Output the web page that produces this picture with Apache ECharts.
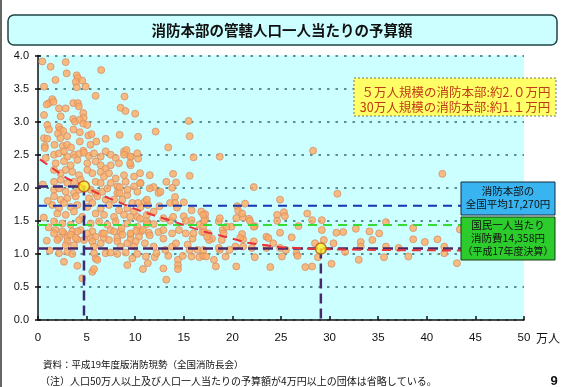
<!DOCTYPE html>
<html><head><meta charset="utf-8">
<script src="https://cdn.jsdelivr.net/npm/echarts@6/dist/echarts.min.js"></script>
<style>html,body{margin:0;padding:0;background:#fff}#c{width:566px;height:387px}</style>
</head><body><div id="c"></div>
<script>
// x: 管轄人口（万人）, y: 人口一人当たり予算額（万円）
const xTickLabels = ['0','5','10','15','20','25','30','35','40','45','50'];
const yTickLabels = ['0.0','0.5','1.0','1.5','2.0','2.5','3.0','3.5','4.0'];

const ptsUpper = [[0.44,3.91],[1.3,3.83],[2.85,3.90],[2.95,3.73],[1.8,3.63],[3.98,3.70],[4.1,3.66],[3.88,3.60],[4.56,3.62],[6.5,3.78],[4.9,3.53],[3.98,3.52],[0.62,3.53],[5.93,3.39],[8.9,3.38],[1.47,3.34],[1.13,3.28],[0.9,3.26],[1.6,3.30],[2.16,3.20],[2.85,3.20],[3.63,3.28],[4.1,3.28],[4.2,3.23],[4.66,3.13],[4.7,3.06],[8.5,3.21],[9.0,3.16],[10.0,3.12],[0.62,3.10],[2.33,3.08],[3.62,3.04],[3.8,3.00],[4.3,3.03],[4.66,2.97],[5.07,2.95],[0.96,2.95],[1.13,2.88],[2.16,2.92],[2.3,2.88],[2.6,2.86],[2.05,2.82],[0.62,2.75],[0.96,2.74],[2.3,2.75],[3.0,2.78],[3.65,2.88],[4.3,2.84],[5.18,2.79],[5.5,2.81],[6.96,2.74],[8.4,2.80],[10.3,2.77],[12.1,2.85],[0.7,2.63],[1.7,2.65],[2.55,2.63],[3.0,2.65],[3.4,2.61],[4.3,2.70],[5.4,2.65],[4.66,2.56],[8.85,2.55],[6.0,2.70],[15.5,3.01],[15.6,2.78],[13.4,2.61],[16.0,2.46],[18.7,2.47],[9.1,2.57],[9.5,2.47],[10.3,2.44],[28.3,2.56],[41.6,2.21]];

const ptsDense = [[1.65,2.50],[2.16,2.52],[2.67,2.55],[3.02,2.47],[3.70,2.50],[4.22,2.51],[4.73,2.53],[5.25,2.48],[5.76,2.52],[6.45,2.47],[6.96,2.55],[7.48,2.50],[7.99,2.45],[8.85,2.50],[9.53,2.47],[10.22,2.52],[1.82,2.37],[2.67,2.40],[3.36,2.34],[4.05,2.42],[5.08,2.37],[5.93,2.40],[6.45,2.34],[6.96,2.29],[7.48,2.34],[8.33,2.37],[9.53,2.34],
[1.65,2.27],[2.33,2.22],[2.85,2.27],[3.53,2.24],[4.22,2.19],[5.08,2.27],[5.59,2.22],[6.45,2.24],[6.79,2.17],[7.30,2.22],[7.99,2.14],[8.85,2.19],[9.88,2.17],[10.56,2.07],[1.65,2.09],[2.33,2.12],[3.02,2.07],[3.70,2.09],[4.39,2.12],[5.93,2.09],[6.45,2.07],[7.48,2.07],[8.16,2.02],[9.02,2.09],[9.88,2.02],
[1.65,1.97],[2.16,1.99],[2.85,1.94],[3.70,1.92],[4.22,1.97],[5.42,1.97],[5.93,1.92],[6.62,1.94],[7.13,1.99],[8.16,1.92],[9.19,1.89],[10.22,1.94],[1.65,1.87],[2.33,1.82],[3.02,1.84],[3.88,1.87],[5.25,1.84],[6.10,1.87],[6.96,1.82],[7.82,1.82],[8.68,1.82],[9.70,1.77],[10.56,1.71],
[1.47,1.74],[2.16,1.69],[2.67,1.77],[3.36,1.71],[4.05,1.74],[5.08,1.71],[5.59,1.77],[6.45,1.69],[7.30,1.74],[8.33,1.66],[9.19,1.69],[9.88,1.64],[1.99,1.61],[2.85,1.59],[3.70,1.64],[4.56,1.56],[5.93,1.61],[6.79,1.59],[7.82,1.56],[8.85,1.59],[10.22,1.56],
[1.65,1.49],[2.50,1.46],[3.36,1.44],[4.22,1.51],[5.42,1.46],[6.28,1.49],[7.13,1.44],[7.99,1.49],[9.19,1.46],[10.22,1.41],[1.82,1.36],[2.67,1.31],[3.53,1.34],[4.39,1.36],[5.59,1.34],[6.62,1.31],[7.48,1.36],[8.50,1.34],[9.53,1.29],[10.56,1.34],[2.16,1.24],[3.02,1.25],[4.05,1.22],[5.42,1.24],[6.79,1.24],[8.16,1.24],[9.53,1.22],
[1.65,1.31],[2.50,1.34],[3.36,1.29],[4.05,1.34],[5.08,1.31],[5.93,1.26],[6.79,1.31],[7.82,1.34],[8.68,1.29],[9.53,1.31],[10.39,1.26],[1.99,1.21],[3.02,1.19],[3.88,1.24],[4.73,1.21],[5.59,1.19],[6.45,1.16],[7.30,1.21],[8.16,1.19],[9.19,1.16],[10.05,1.19],[2.85,1.13],[3.70,1.13],[5.76,1.11],[8.50,1.11],[9.88,1.11],
[2.16,1.01],[3.02,1.03],[3.53,1.00],[5.76,1.01],[6.96,1.01],[7.48,1.02],[8.16,1.00],[9.02,1.02],[10.22,1.00],[2.67,0.88],[4.05,0.82],[5.93,0.93],[6.10,0.91],[9.19,0.83],[9.70,0.93],[5.59,0.73],[5.76,0.77],[4.56,0.63],
[0.8,2.45],[0.5,2.05],[1.0,1.80],[0.6,1.55],[1.1,1.40],[0.9,1.20],[1.2,1.05],[0.7,2.60],[9.47,2.37],[8.4,1.92],[9.5,1.56],[8.6,1.39],[10.1,1.35],[11.4,1.32]];

const ptsMid = [[13.9,2.21],[15.6,2.18],[14.2,2.08],[11.9,2.01],[13.8,2.0],[8.4,2.01],[9.2,1.97],[13.2,2.09],[11.5,1.99],[12.4,1.92],[14.1,1.86],[11.0,1.79],[11.3,1.74],[11.9,1.64],[12.5,1.72],[13.6,1.77],[14.1,1.77],[15.0,1.78],[14.3,1.70],[15.8,1.66],[16.8,1.64],[17.2,1.60],[17.2,1.53],[18.6,1.49],[18.7,1.54],[19.9,1.41],[22.2,2.01],[21.3,1.76],[20.5,1.72],[20.6,1.65],[21.1,1.55],[21.7,1.53],[22.3,1.42],[24.6,1.59],[24.9,1.82],[25.3,1.63],[11.2,1.59],[11.2,1.49],[11.9,1.45],[12.9,1.54],[13.6,1.50],[15.0,1.57],[15.8,1.51],[16.6,1.44],[10.8,1.36],[11.5,1.28],[12.4,1.33],[12.9,1.23],[13.8,1.31],[14.5,1.36],[15.2,1.31],[15.9,1.23],[16.9,1.33],[17.5,1.31],[17.9,1.23],[19.0,1.36],[21.0,1.30],[21.1,1.22],[23.5,1.26],[24.2,1.16],[25.5,1.06],[11.0,1.16],[11.9,1.11],[13.1,1.06],[13.8,1.11],[15.4,1.14],[16.4,1.06],[18.7,1.06],[20.3,1.11],[22.0,1.09],[11.1,0.96],[12.0,0.95],[13.4,0.97],[14.4,0.91],[14.9,0.97],[15.8,0.96],[16.6,0.95],[19.3,0.96],[10.8,0.77],[11.3,0.86],[12.9,0.78],[14.4,0.83],[14.4,0.77],[18.3,0.81],[20.4,0.81],[23.9,0.80],[13.2,0.61],[10.5,2.22],[11.5,2.19],[10.5,2.07],[12.6,1.94],[11.2,1.82],[10.3,1.77],[10.5,1.53],[11.2,1.45],[12.9,1.36],[13.9,1.56],[15.2,1.50],[16.0,1.31],[17.0,1.41],[17.6,1.21],[19.1,1.31],[14.2,1.16],[15.6,1.06],[17.0,0.97],[12.2,1.01],[18.1,0.91],
[21.0,1.61],[20.4,1.54],[21.8,1.50],[22.2,1.41],[25.4,1.57],[24.6,1.50],[17.0,1.59],[17.1,1.50],[19.4,1.41],[24.9,1.32],[23.7,1.24],[20.8,1.24],[22.2,1.19],[17.1,1.33],[17.4,1.26],[18.9,1.21],[24.9,1.09],[23.5,1.09],[21.1,1.11],[19.7,1.06],[18.6,1.09],[17.0,1.06],[17.3,0.96],[22.3,0.95],[25.1,0.96]];

const ptsRight = [[27.7,1.61],[28.2,1.51],[29.2,1.51],[26.8,1.42],[26.1,1.25],[29.2,1.36],[30.7,1.32],[31.4,1.33],[32.7,1.38],[34.1,1.34],[35.1,1.31],[35.8,1.48],[38.6,1.39],[33.2,1.18],[34.4,1.21],[35.8,1.11],[37.1,1.09],[38.6,1.22],[39.8,1.18],[41.1,1.22],[41.8,1.11],[41.8,1.01],[43.4,1.37],[43.1,0.86],[31.6,1.03],[33.0,0.91],[35.6,0.95],[38.1,0.96],[30.2,0.85],[28.2,0.81],[27.5,0.80],[26.6,1.01],[26.7,0.97],[30.8,1.91],[30.4,1.16],[28.5,1.16],[29.4,1.21],[28.8,0.95],[33.2,1.11]];

const avgHQ = 1.727;        // 消防本部の全国平均 17,270円
const avgNation = 1.4358;   // 国民一人当たり消防費 14,358円
const refLineEnd = 43.6;
const pop5Point = [4.73, 2.02];
const pop30Point = [29.1, 1.08];
const trendLine = [[0.2,2.43],[3,2.14],[4.73,2.02],[6.5,1.89],[10.5,1.65],[13.9,1.49],[17,1.34],[19.5,1.25],[21.5,1.17],[25,1.10],[29.1,1.07],[35,1.06],[43.6,1.05]];

const FONT = "'Noto Sans CJK JP', sans-serif";
const allPts = ptsUpper.concat(ptsDense, ptsMid, ptsRight);

const chart = echarts.init(document.getElementById('c'), null, {renderer: 'canvas'});
const dashLine = (data, color, width, dash) => ({
  type: 'line', data, symbol: 'none', silent: true, z: 5,
  lineStyle: {color, width, type: dash}, animation: false
});

chart.setOption({
  animation: false,
  grid: {left: 38, right: 42, top: 55.5, bottom: 67, show: true, backgroundColor: '#ccffff', borderWidth: 0},
  xAxis: {
    type: 'value', min: 0, max: 50, interval: 5,
    axisLine: {show: true, onZero: false, lineStyle: {color: '#111', width: 1.5}},
    axisTick: {show: true, inside: true, length: 4, lineStyle: {color: '#111', width: 1.5}},
    axisLabel: {color: '#111', fontSize: 11.5, margin: 12, fontFamily: 'Liberation Sans',
      formatter: (v) => xTickLabels[Math.round(v / 5)]},
    splitLine: {show: false}
  },
  yAxis: [{
    type: 'value', min: 0, max: 4, interval: 0.5,
    axisLine: {show: true, lineStyle: {color: '#111', width: 1.5}},
    axisTick: {show: true, length: 3, lineStyle: {color: '#111', width: 1.5}},
    axisLabel: {color: '#111', fontSize: 11, margin: 9, fontFamily: 'Liberation Sans',
      formatter: (v) => yTickLabels[Math.round(v * 2)]},
    splitLine: {show: true, lineStyle: {color: '#2e6e70', width: 1.5, type: [2.5, 6]}}
  }, {
    type: 'value', min: 0, max: 4, interval: 0.5, position: 'left',
    axisLine: {show: false}, axisLabel: {show: false}, splitLine: {show: false},
    axisTick: {show: true, inside: true, length: 3, lineStyle: {color: '#111', width: 1.5}}
  }],
  series: [
    {type: 'scatter', data: allPts, symbol: 'circle', symbolSize: 7, z: 2,
      itemStyle: {color: '#ffaa60', borderColor: '#d4906a', borderWidth: 1}},
    dashLine([[0, avgHQ], [refLineEnd, avgHQ]], '#1a33b0', 2, [9, 6]),
    dashLine([[0, avgNation], [refLineEnd, avgNation]], '#33dd33', 2, [9, 6]),
    dashLine([[0, pop30Point[1]], [refLineEnd, pop30Point[1]]], '#4a2868', 2.5, [10, 5]),
    dashLine([[pop30Point[0], pop30Point[1]], [pop30Point[0], 0]], '#4a2868', 2.5, [10, 5]),
    dashLine([[0, pop5Point[1]], [pop5Point[0], pop5Point[1]], [pop5Point[0], 0]], '#3a2a78', 2.5, [10, 5]),
    dashLine(trendLine, '#e8333a', 2, [9, 6]),
    {type: 'scatter', data: [pop5Point, pop30Point], symbolSize: 11, z: 10,
      itemStyle: {color: '#ffee22', borderColor: '#b85a10', borderWidth: 1.5}}
  ],
  graphic: [
    {type: 'rect', shape: {x: 0, y: 0, width: 2, height: 387}, style: {fill: '#666'}},
    {type: 'rect', shape: {x: 8, y: 15, width: 549, height: 30, r: 6},
      style: {fill: '#ccffff', stroke: '#1f4545', lineWidth: 1.5}},
    {type: 'text', x: 282, y: 30, style: {text: '消防本部の管轄人口一人当たりの予算額', fill: '#111',
      font: 'bold 14.5px ' + FONT, align: 'center', verticalAlign: 'middle'}},
    {type: 'rect', z: 20, shape: {x: 354, y: 78, width: 202, height: 38},
      style: {fill: '#ffff66', stroke: '#777', lineWidth: 1, lineDash: [2, 2]}},
    {type: 'text', z: 21, x: 456, y: 92, style: {text: '５万人規模の消防本部:約2.０万円', fill: '#c03a18',
      font: '12.5px ' + FONT, align: 'center', verticalAlign: 'middle'}},
    {type: 'text', z: 21, x: 455, y: 107, style: {text: '30万人規模の消防本部:約1.１万円', fill: '#c03a18',
      font: '12.5px ' + FONT, align: 'center', verticalAlign: 'middle'}},
    {type: 'rect', z: 20, shape: {x: 461, y: 182, width: 94, height: 33},
      style: {fill: '#38b4f0', stroke: '#1a2a3a', lineWidth: 1}},
    {type: 'text', z: 21, x: 508, y: 191, style: {text: '消防本部の', fill: '#111',
      font: '10.5px ' + FONT, align: 'center', verticalAlign: 'middle'}},
    {type: 'text', z: 21, x: 508, y: 204, style: {text: '全国平均17,270円', fill: '#111',
      font: '10.5px ' + FONT, align: 'center', verticalAlign: 'middle'}},
    {type: 'rect', z: 20, shape: {x: 461, y: 217, width: 94, height: 43},
      style: {fill: '#2ccc2c', stroke: '#1a3a1a', lineWidth: 1}},
    {type: 'text', z: 21, x: 508, y: 225, style: {text: '国民一人当たり', fill: '#111',
      font: '10.5px ' + FONT, align: 'center', verticalAlign: 'middle'}},
    {type: 'text', z: 21, x: 508, y: 238, style: {text: '消防費14,358円', fill: '#111',
      font: '10.5px ' + FONT, align: 'center', verticalAlign: 'middle'}},
    {type: 'text', z: 21, x: 508, y: 251, style: {text: '（平成17年度決算）', fill: '#111',
      font: '10px ' + FONT, align: 'center', verticalAlign: 'middle'}},
    {type: 'text', x: 536, y: 338, style: {text: '万人', fill: '#111',
      font: '12px ' + FONT, align: 'left', verticalAlign: 'middle'}},
    {type: 'text', x: 43, y: 364, style: {text: '資料：平成19年度版消防現勢（全国消防長会）', fill: '#111',
      font: '9.5px ' + FONT, align: 'left', verticalAlign: 'middle'}},
    {type: 'text', x: 40, y: 381, style: {text: '（注）人口50万人以上及び人口一人当たりの予算額が4万円以上の団体は省略している。', fill: '#111',
      font: '10px ' + FONT, align: 'left', verticalAlign: 'middle'}},
    {type: 'text', x: 554, y: 381, style: {text: '9', fill: '#111',
      font: 'bold 13px Liberation Sans', align: 'center', verticalAlign: 'middle'}}
  ]
});
</script></body></html>
